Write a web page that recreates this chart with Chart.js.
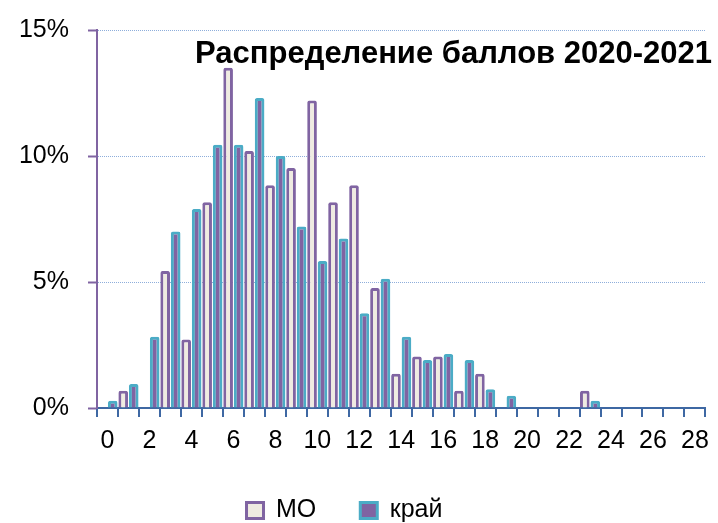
<!DOCTYPE html>
<html>
<head>
<meta charset="utf-8">
<script src="https://cdn.jsdelivr.net/npm/chart.js@4/dist/chart.umd.min.js"></script>
<style>
  html, body { margin: 0; padding: 0; background: #fff; }
  #wrap { width: 718px; height: 523px; position: relative; }
</style>
</head>
<body>
<div id="wrap"><canvas id="chart" width="718" height="523"></canvas></div>
<script>
// баллы 0..28
const scores = [0, 1, 2, 3, 4, 5, 6, 7, 8, 9, 10, 11, 12, 13, 14, 15, 16, 17, 18, 19, 20, 21, 22, 23, 24, 25, 26, 27, 28];
// доля участников, %
const moValues = [0, 0.68, 0, 5.44, 2.72, 8.16, 13.5, 10.2, 8.84, 9.52, 12.2, 8.16, 8.84, 4.76, 1.36, 2.04, 2.04, 0.68, 1.36, 0, 0, 0, 0, 0.68, 0, 0, 0, 0, 0];
const kraiValues = [0.29, 0.95, 2.83, 7.0, 7.9, 10.45, 10.45, 12.3, 10.0, 7.2, 5.83, 6.73, 3.76, 5.13, 2.83, 1.9, 2.14, 1.9, 0.74, 0.49, 0, 0, 0, 0.29, 0, 0, 0, 0, 0];
const yTicks = [0, 5, 10, 15];
const seriesNames = [`МО`, `край`];
const chartTitle = `Распределение баллов 2020-2021`;

const PURPLE = `#8064a2`;
const TEAL = `#4bacc6`;
const CREAM = `#efebe1`;
const AXIS_BLUE = `#3e68a3`;

Chart.defaults.font.family = `"Liberation Sans", Arial, sans-serif`;
Chart.defaults.font.size = 25;
Chart.defaults.color = `#000`;

// заголовок рисуем внутри области графика, справа сверху
const titlePlugin = {
  id: `insideTitle`,
  afterLayout(chart) {
    // легенда у оригинала чуть левее центра
    chart.legend.left -= 10;
    chart.legend.right -= 10;
  },
  afterDraw(chart) {
    const ctx = chart.ctx;
    ctx.save();
    ctx.font = `bold 31px "Liberation Sans", Arial, sans-serif`;
    ctx.fillStyle = `#000`;
    ctx.textAlign = `right`;
    ctx.textBaseline = `alphabetic`;
    ctx.fillText(chartTitle, 712, 63);
    ctx.restore();
  }
};

new Chart(document.getElementById(`chart`), {
  type: `bar`,
  data: {
    labels: scores,
    datasets: [{
      label: seriesNames[0],
      data: moValues,
      backgroundColor: CREAM,
      borderColor: PURPLE,
      borderWidth: 3,
      borderRadius: 2,
      categoryPercentage: 1.0,
      barPercentage: 0.92
    }, {
      label: seriesNames[1],
      data: kraiValues,
      backgroundColor: PURPLE,
      borderColor: TEAL,
      borderWidth: 3,
      borderRadius: 2,
      categoryPercentage: 1.0,
      barPercentage: 0.92
    }]
  },
  options: {
    responsive: false,
    animation: false,
    layout: {padding: {top: 30, right: 9, left: 0, bottom: -10}},
    plugins: {
      title: {display: false},
      tooltip: {enabled: false},
      legend: {
        position: `bottom`,
        labels: {boxWidth: 17, boxHeight: 16, padding: 44, font: {size: 25}}
      }
    },
    scales: {
      x: {
        offset: true,
        grid: {offset: true, drawOnChartArea: false, drawTicks: true, tickLength: 9, color: AXIS_BLUE, lineWidth: 2},
        border: {color: AXIS_BLUE, width: 2},
        ticks: {
          autoSkip: false,
          maxRotation: 0,
          padding: 9,
          callback: (value, index) => (index % 2 === 0 ? scores[index] : ``)
        },
        afterFit: (scale) => { scale.height = 46; }
      },
      y: {
        min: 0,
        max: 15,
        afterBuildTicks: (scale) => { scale.ticks = yTicks.map((v) => ({value: v})); },
        grid: {color: `#8eaedb`, lineWidth: 1, tickColor: PURPLE, tickWidth: 2, tickLength: 9},
        border: {color: PURPLE, width: 2, dash: [1, 1]},
        ticks: {padding: 19, callback: (v) => v + `%`},
        afterFit: (scale) => {
          scale.width = 97;
          scale.paddingTop = 15;
          scale.paddingBottom = 15;
        }
      }
    }
  },
  plugins: [titlePlugin]
});
</script>
</body>
</html>
